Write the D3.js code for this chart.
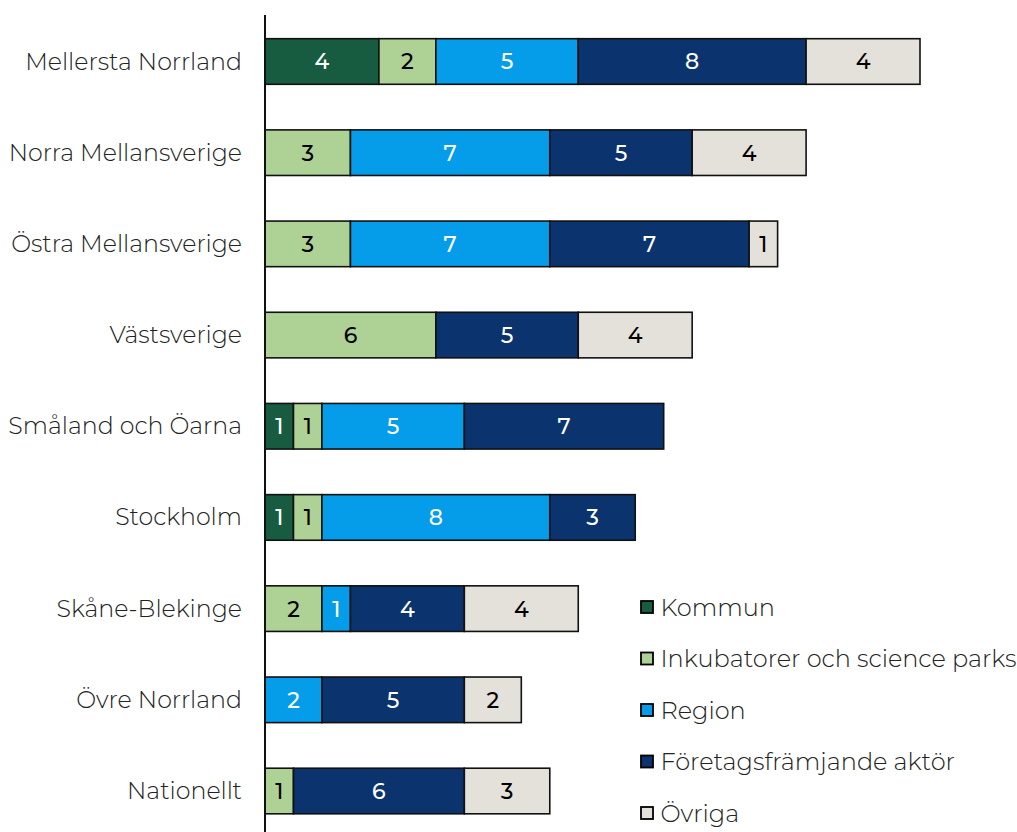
<!DOCTYPE html>
<html><head><meta charset="utf-8">
<script src="https://cdn.jsdelivr.net/npm/d3@7"></script>
<style>body{margin:0;background:#fff}svg{display:block}</style>
</head><body><svg id="c" width="1017" height="832"></svg>
<script>
const categories = ["Mellersta Norrland","Norra Mellansverige","Östra Mellansverige","Västsverige","Småland och Öarna","Stockholm","Skåne-Blekinge","Övre Norrland","Nationellt"];
const seriesNames = ["Kommun","Inkubatorer och science parks","Region","Företagsfrämjande aktör","Övriga"];
const kommun      = [4,0,0,0,1,1,0,0,0];
const inkubatorer = [2,3,3,6,1,1,2,0,1];
const region      = [5,7,7,0,5,8,1,2,0];
const foretag     = [8,5,7,5,7,3,4,5,6];
const ovriga      = [4,4,1,4,0,0,4,2,3];
const colors = ["#175c41","#aed196","#059cea","#0b336e","#e4e1db"];
const textColors = ["#fff","#000","#fff","#fff","#000"];

const seriesValues = [kommun, inkubatorer, region, foretag, ovriga];
const rows = categories.map((c,i)=>{const o={cat:c}; seriesNames.forEach((s,j)=>o[s]=seriesValues[j][i]); return o;});
const stack = d3.stack().keys(seriesNames)(rows);

const svg = d3.select("#c");
const font = "'Montserrat','Open Sans',sans-serif";
const x = d3.scaleLinear().domain([0,23]).range([265,920]);
const y = d3.scaleBand().domain(categories).range([15.9,836.6]).paddingInner(0.5).paddingOuter(0.25);

const g = svg.append("g");
stack.forEach((layer,j)=>{
  const lg = g.append("g");
  layer.forEach((d,i)=>{
    if (d[1]-d[0] <= 0) return;
    lg.append("rect").attr("x",x(d[0])).attr("y",y(categories[i])).attr("width",x(d[1])-x(d[0])).attr("height",y.bandwidth())
      .attr("fill",colors[j]).attr("stroke","#111").attr("stroke-width",1.6);
    lg.append("text").attr("x",(x(d[0])+x(d[1]))/2).attr("y",y(categories[i])+y.bandwidth()/2).attr("dy","0.36em")
      .attr("text-anchor","middle").attr("fill",textColors[j]).style("font-family",font).style("font-size","22px").style("font-weight",500)
      .text(d[1]-d[0]);
  });
});

// category labels
svg.append("g").selectAll("text").data(categories).join("text")
  .attr("x",242).attr("y",d=>y(d)+y.bandwidth()/2-0.5).attr("dy","0.36em").attr("text-anchor","end")
  .attr("fill","#222").style("font-family",font).style("font-size","23.7px").style("font-weight",300).text(d=>d);

// axis line
svg.append("line").attr("x1",265).attr("x2",265).attr("y1",15).attr("y2",832).attr("stroke","#111").attr("stroke-width",2);

// legend
const lgY = d3.scalePoint().domain(seriesNames).range([607,813]);
const leg = svg.append("g");
seriesNames.forEach((s,j)=>{
  leg.append("rect").attr("x",641).attr("y",lgY(s)-6).attr("width",12).attr("height",12).attr("fill",colors[j]).attr("stroke","#000").attr("stroke-width",1.8);
  leg.append("text").attr("x",660.5).attr("y",lgY(s)).attr("dy","0.36em").attr("fill","#222").style("font-family",font).style("font-size","24px").style("font-weight",300).text(s);
});
</script></body></html>
